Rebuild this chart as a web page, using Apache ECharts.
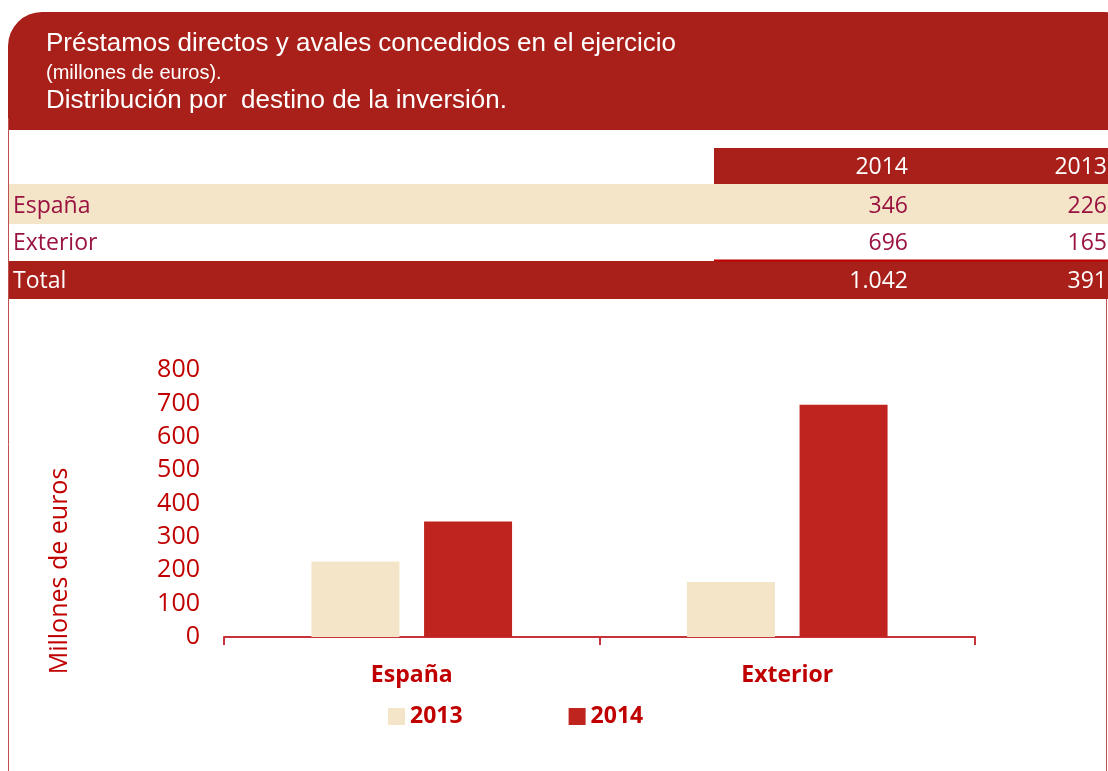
<!DOCTYPE html>
<html>
  <head>
    <meta charset="utf-8" />
    <title>ECharts</title>
    <style type="text/css">
      html, body { margin: 0; padding: 0; background: #ffffff; }
      #main { width: 1108px; height: 771px; }
    </style>
    <script type="text/javascript" src="https://cdn.jsdelivr.net/npm/echarts@6/dist/echarts.min.js"></script>
  </head>
  <body>
    <div id="main"></div>
    <script type="text/javascript">
    // datos
    var categories = ['España', 'Exterior'];
    var years = ['2013', '2014'];
    var values2013 = [226, 165];
    var values2014 = [346, 696];
    var tableYears = ['2014', '2013'];
    var totals = [1042, 391];
    var titleLines = [
      'Préstamos directos y avales concedidos en el ejercicio',
      '(millones de euros).',
      'Distribución por  destino de la inversión.'
    ];

    var darkRed = '#A82019';
    var red = '#C00000';
    var barRed = '#C0241E';
    var beige = '#F5E5C8';
    var rowText = '#9A1240';

    function fmt(v) {
      return String(v).replace(/\B(?=(\d{3})+(?!\d))/g, '.');
    }

    var dom = document.getElementById('main');
    var myChart = echarts.init(dom);

    var graphics = [
      // cabecera con esquinas redondeadas
      { type: 'rect', shape: { x: 8, y: 12, width: 1130, height: 118, r: [34, 34, 0, 0] }, style: { fill: darkRed }, z: 0 },
      { type: 'text', left: 46, top: 31, style: { text: titleLines[0], fill: '#fff', font: '26px "Liberation Sans", Arial, sans-serif' } },
      { type: 'text', left: 46, top: 63, style: { text: titleLines[1], fill: '#fff', font: '20px "Liberation Sans", Arial, sans-serif' } },
      { type: 'text', left: 46, top: 88, style: { text: titleLines[2], fill: '#fff', font: '26px "Liberation Sans", Arial, sans-serif' } },
      // bordes
      { type: 'line', shape: { x1: 8.5, y1: 118, x2: 8.5, y2: 771 }, style: { stroke: '#C0504D', lineWidth: 1 } },
      { type: 'line', shape: { x1: 1106.5, y1: 299, x2: 1106.5, y2: 771 }, style: { stroke: '#C0504D', lineWidth: 1 } },
      // tabla
      { type: 'rect', shape: { x: 714, y: 148, width: 394, height: 36 }, style: { fill: darkRed } },
      { type: 'rect', shape: { x: 9, y: 184, width: 1099, height: 40 }, style: { fill: beige } },
      { type: 'rect', shape: { x: 9, y: 261, width: 1099, height: 38 }, style: { fill: darkRed } },
      { type: 'line', shape: { x1: 714, y1: 260.5, x2: 1108, y2: 260.5 }, style: { stroke: red, lineWidth: 2 } }
    ];

    var colRight = [908, 1107];
    var rowY = [206, 243, 281];
    var rowLabels = categories.concat(['Total']);
    var tableFont = '23px "Open Sans", "Noto Sans", sans-serif';

    tableYears.forEach(function (y, i) {
      graphics.push({ type: 'text', x: colRight[i], y: 167, style: { text: y, fill: '#fff', font: tableFont, textAlign: 'right', textVerticalAlign: 'middle' } });
    });
    rowLabels.forEach(function (lab, r) {
      graphics.push({ type: 'text', x: 13, y: rowY[r], style: { text: lab, fill: r === 2 ? '#fff' : rowText, font: tableFont, textVerticalAlign: 'middle' } });
    });
    categories.forEach(function (c, r) {
      var vals = [values2014[r], values2013[r]];
      vals.forEach(function (v, i) {
        graphics.push({ type: 'text', x: colRight[i], y: rowY[r], style: { text: fmt(v), fill: rowText, font: tableFont, textAlign: 'right', textVerticalAlign: 'middle' } });
      });
    });
    totals.forEach(function (v, i) {
      graphics.push({ type: 'text', x: colRight[i], y: rowY[2], style: { text: fmt(v), fill: '#fff', font: tableFont, textAlign: 'right', textVerticalAlign: 'middle' } });
    });
    // titulo del eje
    graphics.push({
      type: 'text', x: 60, y: 571, rotation: Math.PI / 2,
      style: { text: 'Millones de euros', fill: red, font: '25px "Open Sans", "Noto Sans", sans-serif', textAlign: 'center', textVerticalAlign: 'middle' }
    });

    var option = {
      animation: false,
      graphic: graphics,
      grid: { left: 224, right: 133, top: 370, bottom: 134 },
      legend: {
        data: years,
        left: 383,
        top: 700,
        itemWidth: 17,
        itemHeight: 17,
        itemGap: 106,
        icon: 'rect',
        textStyle: { color: red, fontSize: 23, fontWeight: 'bold', fontFamily: '"Open Sans", sans-serif' }
      },
      xAxis: {
        type: 'category',
        data: categories,
        axisLine: { lineStyle: { color: '#C8323A', width: 2 } },
        axisTick: { show: true, length: 8, lineStyle: { color: '#C8323A', width: 2 } },
        axisLabel: { color: red, fontSize: 23, fontWeight: 'bold', fontFamily: '"Open Sans", sans-serif', margin: 27 }
      },
      yAxis: {
        type: 'value',
        min: 0,
        max: 800,
        interval: 100,
        axisLine: { show: false },
        axisTick: { show: false },
        splitLine: { show: false },
        axisLabel: { color: red, fontSize: 25, fontFamily: '"Open Sans", sans-serif', margin: 24 }
      },
      series: [
        { name: years[0], type: 'bar', data: values2013, barWidth: 88, barGap: '28%', itemStyle: { color: beige } },
        { name: years[1], type: 'bar', data: values2014, barWidth: 88, barGap: '28%', itemStyle: { color: barRed } }
      ]
    };

    if (option && typeof option === 'object') {
      myChart.setOption(option);
    }
    </script>
  </body>
</html>
